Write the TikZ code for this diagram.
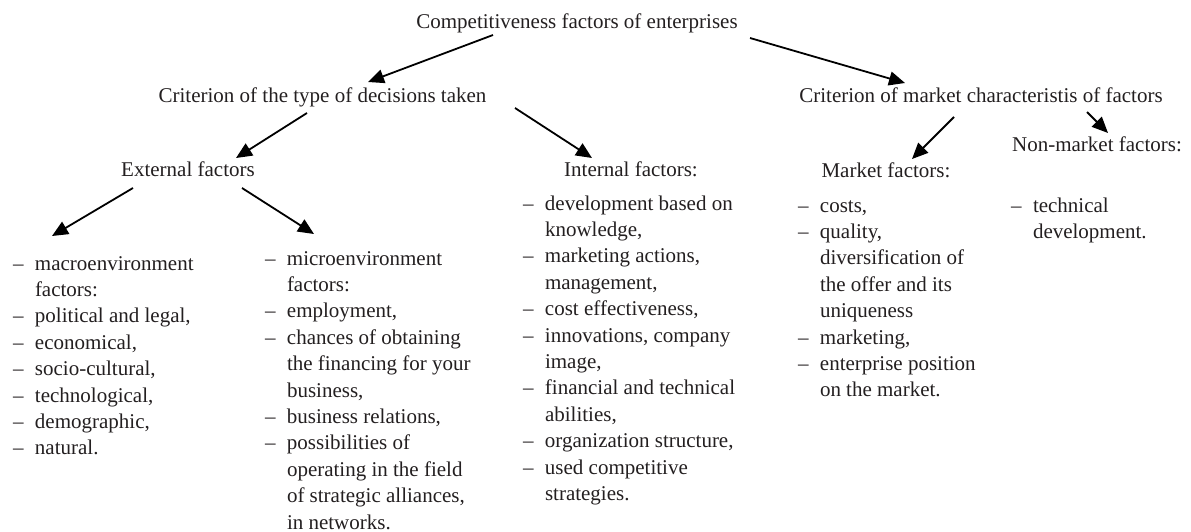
\documentclass[tikz,border=0pt]{standalone}
\usepackage{fontspec}
\setmainfont{Liberation Serif}
\usetikzlibrary{arrows.meta,calc}
\definecolor{ink}{RGB}{35,31,32}
\tikzset{
  txt/.style={inner sep=0pt, outer sep=0pt, text=ink, font=\fontsize{21}{26.4}\selectfont},
  head/.style={txt, anchor=base},
  lst/.style={txt, anchor=base west},
  arr/.style={draw=black, line width=1.8pt, -{Triangle[length=16pt,width=14pt]}}
}
\newcommand{\lstbegin}{\begin{tabular}[t]{@{}p{22pt}@{}l@{}}}
\newcommand{\lstend}{\end{tabular}}
\begin{document}
\begin{tikzpicture}[x=1pt,y=-1pt]
\useasboundingbox (0,0) rectangle (1191,532);
% headings
\node[head] (title) at (577,29) {Competitiveness factors of enterprises};
\node[head] (crit1) at (322.5,103) {Criterion of the type of decisions taken};
\node[head] (crit2) at (981,103) {Criterion of market characteristis of factors};
\node[head] (ext) at (188,176) {External factors};
\node[head] (int) at (631,176) {Internal factors:};
\node[head] (mkt) at (886,177) {Market factors:};
\node[head] (nmkt) at (1097,152) {Non-market factors:};
% lists
\node[lst] (macro) at (13,270) {\lstbegin
– & macroenvironment\\
  & factors:\\
– & political and legal,\\
– & economical,\\
– & socio-cultural,\\
– & technological,\\
– & demographic,\\
– & natural.
\lstend};
\node[lst] (micro) at (265,265) {\lstbegin
– & microenvironment\\
  & factors:\\
– & employment,\\
– & chances of obtaining\\
  & the financing for your\\
  & business,\\
– & business relations,\\
– & possibilities of\\
  & operating in the field\\
  & of strategic alliances,\\
  & in networks.
\lstend};
\node[lst] (intl) at (523,210) {\lstbegin
– & development based on\\
  & knowledge,\\
– & marketing actions,\\
  & management,\\
– & cost effectiveness,\\
– & innovations, company\\
  & image,\\
– & financial and technical\\
  & abilities,\\
– & organization structure,\\
– & used competitive\\
  & strategies.
\lstend};
\node[lst] (mktl) at (798,212) {\lstbegin
– & costs,\\
– & quality,\\
  & diversification of\\
  & the offer and its\\
  & uniqueness\\
– & marketing,\\
– & enterprise position\\
  & on the market.
\lstend};
\node[lst] (nmktl) at (1011,212) {\lstbegin
– & technical\\
  & development.
\lstend};
% arrows
\draw[arr] ($(title.base)+(-84,6)$) -- ($(crit1.base)+(45.5,-21)$);
\draw[arr] ($(title.base)+(173,9)$) -- ($(crit2.base)+(-76,-20)$);
\draw[arr] ($(crit1.base)+(-15.5,10)$) -- ($(ext.base)+(48,-18)$);
\draw[arr] ($(crit1.base)+(192.5,5)$) -- ($(int.base)+(-39,-18)$);
\draw[arr] ($(ext.base)+(-55,12)$) -- ($(macro.base west)+(39,-34)$);
\draw[arr] ($(ext.base)+(54,12)$) -- ($(micro.base west)+(49,-31)$);
\draw[arr] ($(crit2.base)+(-27,14)$) -- ($(mkt.base)+(26,-18)$);
\draw[arr] ($(crit2.base)+(106,9)$) -- ($(nmkt.base)+(11,-19)$);
\end{tikzpicture}
\end{document}
